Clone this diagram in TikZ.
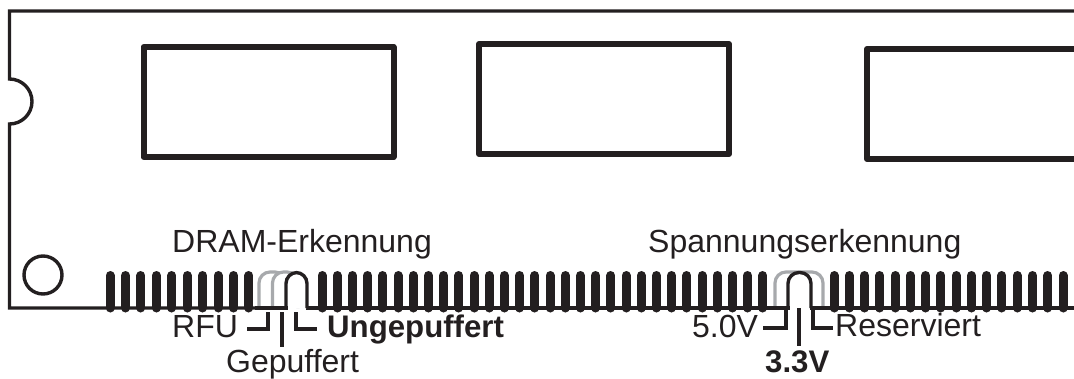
\documentclass[tikz,border=0pt]{standalone}
\usepackage{fontspec}
\setmainfont{Liberation Sans}
\definecolor{inkblack}{HTML}{231F20}
\definecolor{pingray}{HTML}{A7A9AC}
\tikzset{
  chip/.style={draw=inkblack,line width=6pt,line join=round,inner sep=0pt,minimum width=250pt,minimum height=110pt},
  lbl/.style={anchor=base west,inner sep=0pt,text=inkblack,font=\fontsize{32}{32}\selectfont},
  bold/.style={lbl,font=\fontsize{31.2}{32}\selectfont\bfseries},
  outline/.style={draw=inkblack,line width=3.4pt},
  leader/.style={draw=inkblack,line width=3.2pt},
  pin/.style={draw=inkblack,line width=9pt,line cap=round},
  ghost/.style={draw=pingray,line width=3.2pt,fill=white,rounded corners=11pt},
  keyway/.style={draw=inkblack,line width=3.4pt,fill=white,rounded corners=11pt}
}
\begin{document}
\begin{tikzpicture}
  [x=1pt,y=-1pt]
  \clip (0,0) rectangle (1074,378);
  % board edge
  \draw[outline] (1074,11) -- (9.5,11) -- (9.5,79) arc[start angle=-90,end angle=90,radius=22.5] -- (9.5,308) -- (287,308);
  \draw[outline] (306,308) -- (788,308);
  \draw[outline] (811,308) -- (1074,308);
  \node[draw=inkblack,line width=3.4pt,circle,minimum size=38pt,inner sep=0pt] (hole) at (43,275) {};

  \node[chip] (chipa) at (268.5,102) {};
  \node[chip] (chipb) at (604,99) {};
  \node[chip] (chipc) at (992,104) {};

  % contacts
  \foreach \i in {0,...,9}
    \draw[pin] ({110+15.44*\i},275.5) -- ({110+15.44*\i},308);
  \foreach \i in {0,...,29}
    \draw[pin] ({322+15.2*\i},275.5) -- ({322+15.2*\i},308);
  \foreach \i in {0,...,15}
    \draw[pin] ({834+15.27*\i},275.5) -- ({834+15.27*\i},308);

  % keys
  \draw[ghost] (259,308) -- (259,272) -- (286,272) -- (286,308);
  \draw[ghost] (272.5,308) -- (272.5,272) -- (298,272) -- (298,308);
  \draw[keyway] (286,308) -- (286,272.5) -- (307,272.5) -- (307,308);
  \draw[outline] (255,308) -- (287.5,308);
  \draw[ghost] (775,308) -- (775,272) -- (823,272) -- (823,308);
  \draw[keyway] (788,308) -- (788,272.5) -- (811,272.5) -- (811,308);
  \draw[outline] (770,308) -- (789.5,308);
  \draw[outline] (809.5,308) -- (830,308);

  % labels
  \node[lbl] (dram) at (172,252) {DRAM-Erkennung};
  \node[lbl] (volt) at (648,252) {Spannungserkennung};
  \node[lbl] (rfu) at (172,337) {RFU};
  \node[lbl] (gepuf) at (226,372) {Gepuffert};
  \node[bold] (unge) at (327,337) {Ungepuffert};
  \node[lbl] (five) at (692,337) {5.0V};
  \node[bold] (three) at (765,372) {3.3V};
  \node[lbl] (resv) at (835,336) {Reserviert};

  \coordinate (rfua) at (247,329);
  \coordinate (rfub) at (268,312);
  \coordinate (gepa) at (282,312);
  \coordinate (gepb) at (282,347);
  \coordinate (unga) at (296,312);
  \coordinate (ungb) at (317,329);
  \coordinate (fivea) at (763,328);
  \coordinate (fiveb) at (786,308);
  \coordinate (threea) at (799,308);
  \coordinate (threeb) at (799,346);
  \coordinate (resa) at (813,308);
  \coordinate (resb) at (833,328);

  \draw[leader] (rfua) -| (rfub);
  \draw[leader] (gepa) -- (gepb);
  \draw[leader] (unga) |- (ungb);
  \draw[leader] (fivea) -| (fiveb);
  \draw[leader] (threea) -- (threeb);
  \draw[leader] (resa) |- (resb);
\end{tikzpicture}
\end{document}
